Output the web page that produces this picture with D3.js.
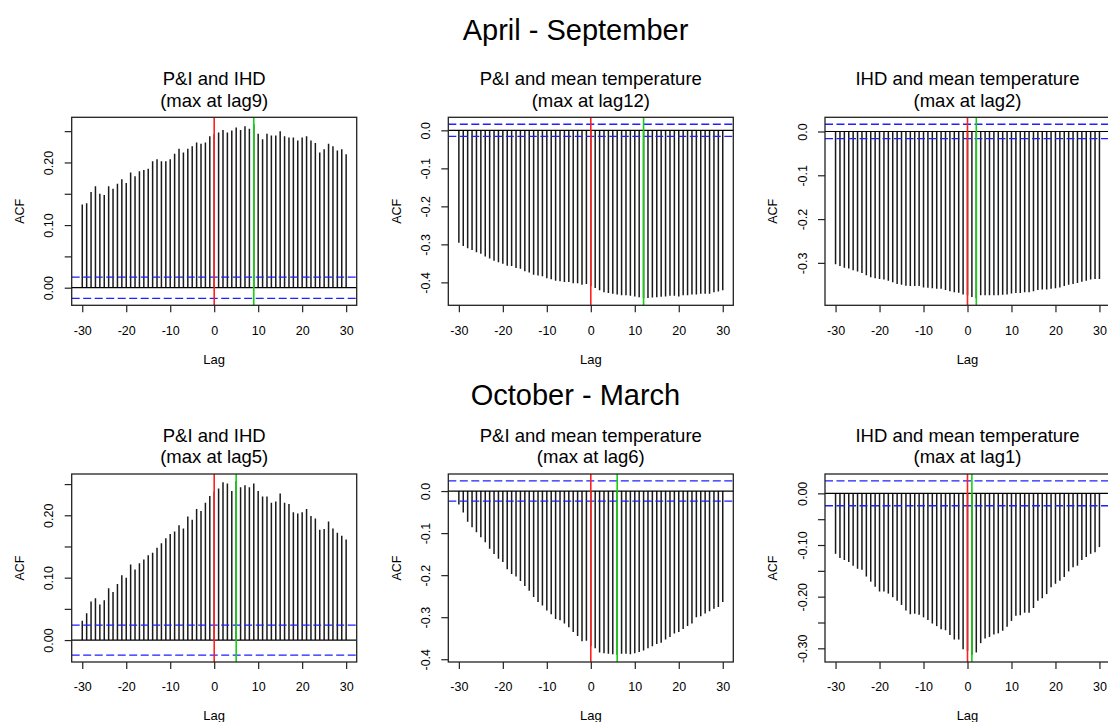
<!DOCTYPE html>
<html><head><meta charset="utf-8">
<script src="https://cdn.jsdelivr.net/npm/d3@7"></script>
<style>
body{margin:0;background:#fff}
svg{display:block;font-family:"Liberation Sans",Arial,sans-serif}
</style>
</head><body>
<svg id="c" width="1108" height="722"></svg>
<script>
// ---------- data ----------
const lags = d3.range(-30, 31);
const seasonTitles = ["April - September", "October - March"];
const pairTitles = ["P&I and IHD", "P&I and mean temperature", "IHD and mean temperature"];
const maxLagSummer = [9, 12, 2];
const maxLagWinter = [5, 6, 1];
const ciSummer = [0.017, 0.016, 0.0165];
const ciWinter = [0.024, 0.024, 0.024];

const acfSummerPIIHD = [0.133,0.135,0.153,0.162,0.150,0.148,0.162,0.158,0.166,0.173,0.167,0.184,0.178,0.186,0.188,0.190,0.202,0.205,0.202,0.202,0.205,0.214,0.222,0.216,0.222,0.226,0.232,0.230,0.232,0.242,
  0.245,
  0.248,0.252,0.248,0.251,0.256,0.252,0.258,0.254,0.261,0.246,0.237,0.246,0.243,0.243,0.250,0.242,0.240,0.240,0.235,0.240,0.242,0.235,0.231,0.216,0.221,0.230,0.226,0.219,0.221,0.213];
const acfSummerPITemp = [-0.296,-0.304,-0.310,-0.315,-0.321,-0.325,-0.332,-0.337,-0.343,-0.347,-0.351,-0.356,-0.357,-0.362,-0.364,-0.371,-0.374,-0.380,-0.382,-0.384,-0.389,-0.392,-0.396,-0.397,-0.399,-0.399,-0.402,-0.402,-0.406,-0.404,
  -0.410,
  -0.415,-0.421,-0.426,-0.428,-0.430,-0.432,-0.434,-0.434,-0.435,-0.437,-0.439,-0.442,-0.441,-0.440,-0.439,-0.438,-0.437,-0.435,-0.435,-0.437,-0.434,-0.434,-0.432,-0.432,-0.430,-0.430,-0.430,-0.426,-0.424,-0.421];
const acfSummerIHDTemp = [-0.303,-0.307,-0.311,-0.313,-0.317,-0.320,-0.323,-0.328,-0.333,-0.335,-0.337,-0.338,-0.341,-0.344,-0.348,-0.350,-0.352,-0.353,-0.353,-0.353,-0.356,-0.357,-0.358,-0.359,-0.359,-0.362,-0.365,-0.367,-0.368,-0.372,
  -0.374,
  -0.378,-0.381,-0.374,-0.374,-0.374,-0.374,-0.374,-0.373,-0.372,-0.370,-0.369,-0.369,-0.367,-0.367,-0.365,-0.362,-0.361,-0.361,-0.359,-0.358,-0.356,-0.353,-0.350,-0.348,-0.346,-0.343,-0.341,-0.338,-0.337,-0.337];
const acfWinterPIIHD = [0.031,0.043,0.062,0.067,0.057,0.064,0.083,0.077,0.090,0.104,0.100,0.121,0.113,0.123,0.129,0.136,0.140,0.148,0.155,0.163,0.170,0.174,0.184,0.179,0.198,0.193,0.210,0.207,0.220,0.231,
  0.238,
  0.243,0.253,0.251,0.239,0.255,0.245,0.248,0.245,0.251,0.239,0.230,0.230,0.220,0.222,0.235,0.220,0.218,0.205,0.203,0.205,0.210,0.199,0.195,0.177,0.178,0.190,0.179,0.172,0.167,0.161];
const acfWinterPITemp = [-0.032,-0.051,-0.073,-0.086,-0.098,-0.110,-0.122,-0.137,-0.150,-0.161,-0.169,-0.186,-0.197,-0.203,-0.214,-0.226,-0.237,-0.252,-0.264,-0.272,-0.284,-0.293,-0.304,-0.307,-0.315,-0.324,-0.335,-0.345,-0.357,-0.356,
  -0.369,
  -0.374,-0.384,-0.386,-0.387,-0.388,-0.390,-0.387,-0.387,-0.388,-0.386,-0.383,-0.379,-0.374,-0.369,-0.364,-0.361,-0.353,-0.347,-0.339,-0.335,-0.328,-0.321,-0.315,-0.300,-0.298,-0.291,-0.286,-0.280,-0.276,-0.264];
const acfWinterIHDTemp = [-0.117,-0.125,-0.129,-0.133,-0.140,-0.146,-0.148,-0.161,-0.171,-0.181,-0.190,-0.190,-0.194,-0.201,-0.208,-0.216,-0.227,-0.234,-0.233,-0.235,-0.240,-0.245,-0.252,-0.257,-0.263,-0.265,-0.274,-0.283,-0.283,-0.302,
  -0.305,
  -0.313,-0.308,-0.290,-0.281,-0.278,-0.273,-0.271,-0.266,-0.258,-0.247,-0.237,-0.236,-0.231,-0.231,-0.222,-0.208,-0.203,-0.195,-0.182,-0.175,-0.169,-0.162,-0.151,-0.143,-0.140,-0.129,-0.123,-0.117,-0.114,-0.104];

const xTickValues = [-30, -20, -10, 0, 10, 20, 30];
const yTicksPositive = [0, 0.05, 0.10, 0.15, 0.20, 0.25];
const yLabelsPositive = ["0.00", "", "0.10", "", "0.20", ""];
const yTicksNeg4 = [0, -0.1, -0.2, -0.3, -0.4];
const yLabelsNeg4 = ["0.0", "-0.1", "-0.2", "-0.3", "-0.4"];
const yTicksNeg3 = [0, -0.1, -0.2, -0.3];
const yLabelsNeg3 = ["0.0", "-0.1", "-0.2", "-0.3"];
const yTicksNeg30 = [0, -0.05, -0.10, -0.15, -0.20, -0.25, -0.30];
const yLabelsNeg30 = ["0.00", "", "-0.10", "", "-0.20", "", "-0.30"];

// ---------- layout ----------
const colLeft = [71.7, 448.3, 825];
const rowTop = [117.3, 474];
const boxW = 285, boxH = 188;

const panels = [
  {r:0,c:0,vals:acfSummerPIIHD,ci:ciSummer[0],mx:maxLagSummer[0],yt:yTicksPositive,yl:yLabelsPositive},
  {r:0,c:1,vals:acfSummerPITemp,ci:ciSummer[1],mx:maxLagSummer[1],yt:yTicksNeg4,yl:yLabelsNeg4},
  {r:0,c:2,vals:acfSummerIHDTemp,ci:ciSummer[2],mx:maxLagSummer[2],yt:yTicksNeg3,yl:yLabelsNeg3},
  {r:1,c:0,vals:acfWinterPIIHD,ci:ciWinter[0],mx:maxLagWinter[0],yt:yTicksPositive,yl:yLabelsPositive},
  {r:1,c:1,vals:acfWinterPITemp,ci:ciWinter[1],mx:maxLagWinter[1],yt:yTicksNeg4,yl:yLabelsNeg4},
  {r:1,c:2,vals:acfWinterIHDTemp,ci:ciWinter[2],mx:maxLagWinter[2],yt:yTicksNeg30,yl:yLabelsNeg30}
];

const svg = d3.select("#c");

// season titles
seasonTitles.forEach((t, i) => {
  svg.append("text").attr("x", 575.5).attr("y", i === 0 ? 40 : 404.5)
    .attr("text-anchor", "middle").attr("font-size", 29).attr("fill", "#000").text(t);
});

panels.forEach(p => {
  const L = colLeft[p.c], T = rowTop[p.r];
  const g = svg.append("g");
  const x = d3.scaleLinear().domain([-32.4, 32.4]).range([L, L + boxW]);
  const lo = Math.min(d3.min(p.vals), -p.ci), hi = Math.max(d3.max(p.vals), p.ci);
  const ext = (hi - lo) * 0.04;
  const y = d3.scaleLinear().domain([lo - ext, hi + ext]).range([T + boxH, T]);

  // titles
  const cx = L + boxW / 2;
  const tb = T - 32.3;
  g.append("text").attr("x", cx).attr("y", tb).attr("text-anchor", "middle")
    .attr("font-size", 18.5).attr("fill", "#000").text(pairTitles[p.c]);
  g.append("text").attr("x", cx).attr("y", tb + 21.5).attr("text-anchor", "middle")
    .attr("font-size", 18.5).attr("fill", "#000").text("(max at lag" + p.mx + ")");

  // clip
  const cid = "clip" + p.r + p.c;
  svg.append("clipPath").attr("id", cid).append("rect")
    .attr("x", L).attr("y", T).attr("width", boxW).attr("height", boxH);
  const inner = g.append("g").attr("clip-path", "url(#" + cid + ")");

  // bars
  inner.selectAll("line.bar").data(lags).join("line").attr("class", "bar")
    .attr("x1", d => x(d)).attr("x2", d => x(d))
    .attr("y1", y(0)).attr("y2", (d, i) => y(p.vals[i]))
    .attr("stroke", "#1a1a1a").attr("stroke-width", 1.5);

  // zero line
  inner.append("line").attr("x1", L).attr("x2", L + boxW).attr("y1", y(0)).attr("y2", y(0))
    .attr("stroke", "#000").attr("stroke-width", 1.2);
  // ci lines
  [p.ci, -p.ci].forEach(v => {
    inner.append("line").attr("x1", L).attr("x2", L + boxW).attr("y1", y(v)).attr("y2", y(v))
      .attr("stroke", "#1f1fff").attr("stroke-width", 1.3).attr("stroke-dasharray", "8,3.5");
  });
  // red & green verticals
  inner.append("line").attr("x1", x(0)).attr("x2", x(0)).attr("y1", T).attr("y2", T + boxH)
    .attr("stroke", "#ff2020").attr("stroke-width", 1.6);
  inner.append("line").attr("x1", x(p.mx)).attr("x2", x(p.mx)).attr("y1", T).attr("y2", T + boxH)
    .attr("stroke", "#16d016").attr("stroke-width", 1.6);

  // box
  g.append("rect").attr("x", L).attr("y", T).attr("width", boxW).attr("height", boxH)
    .attr("fill", "none").attr("stroke", "#222").attr("stroke-width", 1.3);

  // x axis
  const xa = g.append("g").attr("transform", "translate(0," + (T + boxH) + ")")
    .call(d3.axisBottom(x).tickValues(xTickValues).tickSize(7).tickPadding(3)
      .tickFormat(d => String(d)));
  xa.select(".domain").remove();
  xa.selectAll("line").attr("stroke", "#222").attr("stroke-width", 1.2);
  xa.selectAll("text").attr("font-size", 12.5).attr("font-family", "Liberation Sans, Arial, sans-serif")
    .attr("fill", "#000").attr("dy", null).attr("y", 29.3);

  // y axis
  const ya = g.append("g").attr("transform", "translate(" + L + ",0)")
    .call(d3.axisLeft(y).tickValues(p.yt).tickSize(7)
      .tickFormat((d, i) => p.yl[i]));
  ya.select(".domain").remove();
  ya.selectAll("line").attr("stroke", "#222").attr("stroke-width", 1.2);
  ya.selectAll("text").attr("font-size", 12.5).attr("font-family", "Liberation Sans, Arial, sans-serif")
    .attr("fill", "#000").attr("dy", null).attr("x", 0).attr("y", -18.4)
    .attr("text-anchor", "middle").attr("transform", "rotate(-90)");

  // axis titles
  g.append("text").attr("x", cx).attr("y", T + boxH + (p.r === 0 ? 59 : 57.5)).attr("text-anchor", "middle")
    .attr("font-size", 13).attr("fill", "#000").text("Lag");
  g.append("text").attr("transform", "translate(" + (L - 47.7) + "," + (T + boxH / 2) + ") rotate(-90)")
    .attr("text-anchor", "middle").attr("font-size", 12.5).attr("fill", "#000").text("ACF");
});
</script>
</body></html>
